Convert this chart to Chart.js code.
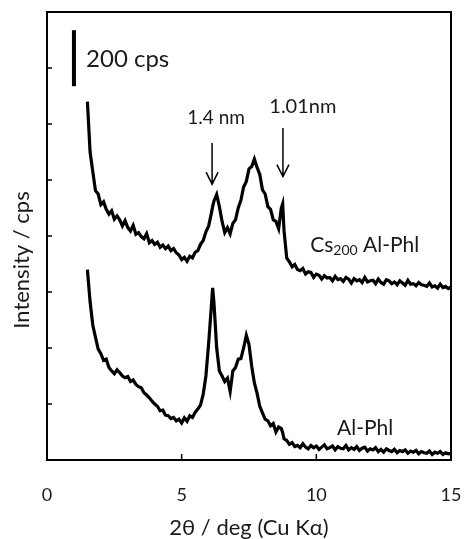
<!DOCTYPE html>
<html>
<head>
<meta charset="utf-8">
<script src="https://cdn.jsdelivr.net/npm/chart.js@4"></script>
<style>
  html, body { margin: 0; padding: 0; background: #fff; }
  #wrap { width: 464px; height: 539px; }
</style>
</head>
<body>
<div id="wrap"><canvas id="xrdChart" width="464" height="539"></canvas></div>
<script>
// 2theta positions (deg)
const twoTheta = [
  1.5, 1.6, 1.7, 1.8, 1.9, 2.0, 2.1, 2.2, 2.3, 2.4, 2.5, 2.6, 2.7, 2.8, 2.9,
  3.0, 3.1, 3.2, 3.3, 3.4, 3.5, 3.6, 3.7, 3.8, 3.9, 4.0, 4.1, 4.2, 4.3, 4.4,
  4.5, 4.6, 4.7, 4.8, 4.9, 5.0, 5.1, 5.2, 5.3, 5.4, 5.5, 5.6, 5.7, 5.8, 5.9,
  6.0, 6.1, 6.15, 6.2, 6.3, 6.4, 6.5, 6.6, 6.7, 6.8, 6.9, 7.0, 7.1, 7.2, 7.3,
  7.4, 7.5, 7.6, 7.7, 7.8, 7.9, 8.0, 8.1, 8.2, 8.3, 8.4, 8.5, 8.6, 8.7, 8.75,
  8.8, 8.9, 9.0, 9.1, 9.2, 9.3, 9.4, 9.5, 9.6, 9.7, 9.8, 9.9, 10.0, 10.1, 10.2,
  10.3, 10.4, 10.5, 10.6, 10.7, 10.8, 10.9, 11.0, 11.1, 11.2, 11.3, 11.4, 11.5, 11.6, 11.7,
  11.8, 11.9, 12.0, 12.1, 12.2, 12.3, 12.4, 12.5, 12.6, 12.7, 12.8, 12.9, 13.0, 13.1, 13.2,
  13.3, 13.4, 13.5, 13.6, 13.7, 13.8, 13.9, 14.0, 14.1, 14.2, 14.3, 14.4, 14.5, 14.6, 14.7,
  14.8, 14.9, 15.0
];

// Cs200 Al-Phl (offset trace, cps)
const csAlPhl = [
  1280, 1100, 1030, 962, 950, 912, 922, 895, 878, 890, 860, 872, 858, 836, 855,
  830, 818, 838, 806, 812, 798, 790, 808, 776, 784, 770, 778, 760, 768, 755,
  764, 748, 755, 740, 732, 716, 724, 710, 728, 722, 742, 748, 770, 784, 815,
  835, 880, 905, 925, 948, 905, 852, 812, 830, 808, 845, 858, 900, 928, 975,
  995, 1040, 1048, 1075, 1045, 1020, 965, 950, 905, 895, 858, 852, 826, 900, 915,
  820, 722, 708, 690, 698, 680, 676, 684, 664, 672, 670, 652, 664, 660, 646,
  658, 650, 652, 640, 656, 644, 648, 638, 652, 646, 632, 648, 640, 644, 634,
  652, 636, 640, 642, 630, 646, 634, 628, 644, 640, 630, 636, 626, 640, 632,
  624, 642, 628, 630, 622, 634, 626, 624, 620, 632, 618, 622, 614, 628, 616,
  620, 612, 618
];

// Al-Phl (cps)
const alPhl = [
  680, 565, 482, 438, 396, 380, 356, 360, 330, 318, 308, 322, 312, 300, 294,
  298, 280, 286, 270, 262, 258, 240, 232, 222, 210, 200, 192, 176, 178, 160,
  158, 148, 152, 140, 146, 132, 150, 138, 158, 152, 170, 182, 196, 235, 300,
  415, 545, 615, 560, 400, 318, 300, 280, 292, 245, 318, 330, 360, 362, 400,
  445, 412, 335, 275, 238, 192, 168, 146, 140, 122, 130, 100, 118, 112, 98,
  76, 70, 56, 62, 48, 52, 44, 58, 46, 40, 52, 44, 50, 38, 46,
  54, 40, 44, 50, 36, 48, 42, 40, 52, 36, 44, 38, 48, 34, 42,
  46, 32, 40, 36, 44, 30, 38, 28, 40, 34, 30, 38, 26, 34, 30,
  36, 24, 32, 28, 34, 22, 30, 26, 24, 32, 20, 28, 24, 30, 20,
  26, 22, 24
];

const xTicks = [0, 5, 10, 15];
const yTicks = [0, 200, 400, 600, 800, 1000, 1200, 1400, 1600];

const FONT = "Lato, 'Open Sans', sans-serif";

const toPoints = (xs, ys) => xs.map((x, i) => ({ x: x, y: ys[i] }));

// box, inside ticks, scale bar, arrows and labels
const decorPlugin = {
  id: "decor",
  afterDraw(chart) {
    const { ctx, chartArea: a, scales } = chart;
    const xs = scales.x, ys = scales.y;
    ctx.save();
    ctx.strokeStyle = "#000";
    ctx.fillStyle = "#000";

    // frame
    ctx.lineWidth = 2;
    ctx.strokeRect(a.left, a.top, a.right - a.left, a.bottom - a.top);

    // inner ticks
    ctx.lineWidth = 1.5;
    yTicks.forEach((v) => {
      const py = ys.getPixelForValue(v);
      ctx.beginPath();
      ctx.moveTo(a.left, py);
      ctx.lineTo(a.left + 5, py);
      ctx.stroke();
    });
    xTicks.forEach((v) => {
      const px = xs.getPixelForValue(v);
      ctx.beginPath();
      ctx.moveTo(px, a.bottom);
      ctx.lineTo(px, a.bottom - 6);
      ctx.stroke();
    });

    // 200 cps bar
    ctx.lineWidth = 4;
    ctx.beginPath();
    ctx.moveTo(xs.getPixelForValue(1.0), ys.getPixelForValue(1535));
    ctx.lineTo(xs.getPixelForValue(1.0), ys.getPixelForValue(1335));
    ctx.stroke();

    // arrows
    const arrow = (x, y0, y1) => {
      const px = xs.getPixelForValue(x);
      const p0 = ys.getPixelForValue(y0);
      const p1 = ys.getPixelForValue(y1);
      ctx.lineWidth = 1.5;
      ctx.beginPath();
      ctx.moveTo(px, p0);
      ctx.lineTo(px, p1);
      ctx.moveTo(px - 6, p1 - 12);
      ctx.lineTo(px, p1);
      ctx.lineTo(px + 6, p1 - 12);
      ctx.stroke();
    };
    arrow(6.13, 1132, 985);
    arrow(8.76, 1186, 1012);

    // texts
    ctx.fillStyle = "#1a1a1a";
    ctx.textBaseline = "middle";
    ctx.textAlign = "left";
    ctx.font = "24px " + FONT;
    ctx.fillText("200 cps", xs.getPixelForValue(1.45), ys.getPixelForValue(1430));

    ctx.textAlign = "center";
    ctx.font = "19px " + FONT;
    ctx.fillText("1.4 nm", xs.getPixelForValue(6.28), ys.getPixelForValue(1221));
    ctx.font = "20px " + FONT;
    ctx.fillText("1.01nm", xs.getPixelForValue(9.5), ys.getPixelForValue(1264));

    // Cs200 Al-Phl with subscript
    ctx.textAlign = "left";
    let tx = xs.getPixelForValue(9.77);
    const ty = ys.getPixelForValue(768);
    ctx.font = "21px " + FONT;
    ctx.fillText("Cs", tx, ty);
    tx += ctx.measureText("Cs").width;
    ctx.font = "14px " + FONT;
    ctx.fillText("200", tx, ty + 6);
    tx += ctx.measureText("200").width;
    ctx.font = "21px " + FONT;
    ctx.fillText(" Al-Phl", tx, ty);

    ctx.fillText("Al-Phl", xs.getPixelForValue(10.77), ys.getPixelForValue(114));

    // y axis title
    ctx.save();
    ctx.translate(22, 260);
    ctx.rotate(-Math.PI / 2);
    ctx.textAlign = "center";
    ctx.font = "22px " + FONT;
    ctx.fillText("Intensity / cps", 0, 0);
    ctx.restore();

    ctx.restore();
  },
};

const ctx = document.getElementById("xrdChart").getContext("2d");

const xrdChart = new Chart(ctx, {
  type: "line",
  data: {
    datasets: [
      {
        label: "Cs200 Al-Phl",
        data: toPoints(twoTheta, csAlPhl),
        borderColor: "#000",
        borderWidth: 3.2,
        pointRadius: 0,
        tension: 0,
        fill: false,
      },
      {
        label: "Al-Phl",
        data: toPoints(twoTheta, alPhl),
        borderColor: "#000",
        borderWidth: 3.2,
        pointRadius: 0,
        tension: 0,
        fill: false,
      },
    ],
  },
  options: {
    responsive: false,
    animation: false,
    layout: { padding: { top: 12, right: 13, left: 0, bottom: 0 } },
    scales: {
      x: {
        type: "linear",
        min: 0,
        max: 15,
        afterBuildTicks: (scale) => {
          scale.ticks = xTicks.map((v) => ({ value: v }));
        },
        afterFit: (scale) => {
          scale.height = 79;
        },
        // tick marks are hidden; tickLength only pushes the labels down
        grid: { display: false, drawTicks: true, tickLength: 24 },
        border: { display: false },
        ticks: {
          padding: 0,
          color: "#1a1a1a",
          font: { family: FONT, size: 18 },
        },
        title: {
          display: true,
          text: "2θ / deg (Cu Kα)",
          color: "#1a1a1a",
          padding: { top: 0, bottom: 0 },
          font: { family: FONT, size: 22, lineHeight: 1 },
        },
      },
      y: {
        type: "linear",
        min: 0,
        max: 1600,
        afterFit: (scale) => {
          scale.width = 47;
        },
        grid: { display: false },
        border: { display: false },
        ticks: { display: false, stepSize: 200 },
      },
    },
    plugins: {
      legend: { display: false },
      tooltip: { enabled: false },
    },
  },
  plugins: [decorPlugin],
});
</script>
</body>
</html>
